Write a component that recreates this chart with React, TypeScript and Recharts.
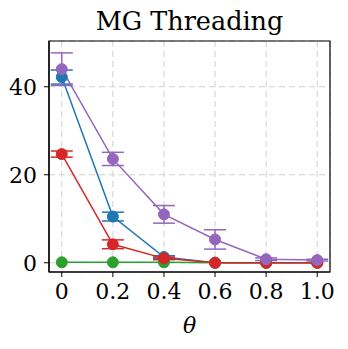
import React from "react";
import {
  LineChart,
  Line,
  XAxis,
  YAxis,
  CartesianGrid,
  ErrorBar,
  ReferenceArea,
} from "recharts";

const thetas = [0, 0.2, 0.4, 0.6, 0.8, 1.0];
const blueVals = [42.2, 10.5, 1.3, 0, 0, 0];
const blueErr = [1.6, 1.0, 0.3, 0, 0, 0];
const greenVals = [0.1, 0.1, 0.1, 0, 0, 0];
const greenErr = [0, 0, 0, 0, 0, 0];
const redVals = [24.7, 4.2, 1.0, 0, 0, 0];
const redErr = [0.7, 1.0, 0.3, 0, 0, 0];
const purpleVals = [44.0, 23.6, 11.0, 5.3, 0.8, 0.6];
const purpleErr = [3.7, 1.5, 2.0, 2.2, 0.3, 0.2];
const xTicks = [0, 0.2, 0.4, 0.6, 0.8, 1.0];
const yTicks = [0, 20, 40];

const data = thetas.map((x, i) => ({
  x,
  blue: blueVals[i],
  blueErr: blueErr[i],
  green: greenVals[i],
  greenErr: greenErr[i],
  red: redVals[i],
  redErr: redErr[i],
  purple: purpleVals[i],
  purpleErr: purpleErr[i],
}));

const FONT = "'DejaVu Serif', serif";
const X_DOMAIN: [number, number] = [-0.05, 1.05];
const Y_DOMAIN: [number, number] = [-2.1, 50.4];

const series = [
  { key: "blue", color: "#1f77b4" },
  { key: "green", color: "#2ca02c" },
  { key: "red", color: "#d62728" },
  { key: "purple", color: "#9467bd" },
];

export default function App() {
  return (
    <div style={{ position: "absolute", left: 0, top: 0, width: 348, height: 349, background: "#fff" }}>
      <div
        style={{
          position: "absolute",
          left: 49,
          width: 281,
          top: 3,
          textAlign: "center",
          fontFamily: FONT,
          fontSize: 25.5,
          color: "#000",
          lineHeight: "36px",
          whiteSpace: "nowrap",
        }}
      >
        MG Threading
      </div>
      <LineChart
        width={348}
        height={349}
        data={data}
        margin={{ top: 41, right: 18, left: 0, bottom: 22 }}
      >
        <CartesianGrid stroke="#d0d0d0" strokeDasharray="6 4" strokeWidth={1} />
        <XAxis
          dataKey="x"
          type="number"
          domain={X_DOMAIN}
          ticks={xTicks}
          allowDataOverflow
          tickFormatter={(v: number) => (v === 0 ? "0" : v.toFixed(1))}
          tick={{ fontFamily: FONT, fontSize: 22, fill: "#000" }}
          tickSize={5}
          tickMargin={6}
          tickLine={{ stroke: "#000" }}
          axisLine={{ stroke: "#000", strokeWidth: 1.2 }}
          height={55}
          label={{
            value: "θ",
            position: "insideBottom",
            offset: -6,
            style: { fontFamily: FONT, fontSize: 22, fontStyle: "italic", fill: "#000" },
          }}
        />
        <YAxis
          type="number"
          domain={Y_DOMAIN}
          ticks={yTicks}
          allowDataOverflow
          tick={{ fontFamily: FONT, fontSize: 22, fill: "#000" }}
          tickSize={5}
          tickMargin={7}
          tickLine={{ stroke: "#000" }}
          axisLine={{ stroke: "#000", strokeWidth: 1.2 }}
          width={49}
        />
        <ReferenceArea
          x1={X_DOMAIN[0]}
          x2={X_DOMAIN[1]}
          y1={Y_DOMAIN[0]}
          y2={Y_DOMAIN[1]}
          fill="none"
          fillOpacity={0}
          stroke="#000"
          strokeWidth={1.2}
          ifOverflow="extendDomain"
        />
        {series.map((s) => (
          <Line
            key={s.key}
            dataKey={s.key}
            stroke={s.color}
            strokeWidth={1.5}
            isAnimationActive={false}
            dot={{ r: 5.5, fill: s.color, stroke: s.color, strokeWidth: 1 }}
            activeDot={false}
          >
            <ErrorBar
              dataKey={`${s.key}Err`}
              direction="y"
              width={11}
              stroke={s.color}
              strokeWidth={1.5}
            />
          </Line>
        ))}
      </LineChart>
    </div>
  );
}
